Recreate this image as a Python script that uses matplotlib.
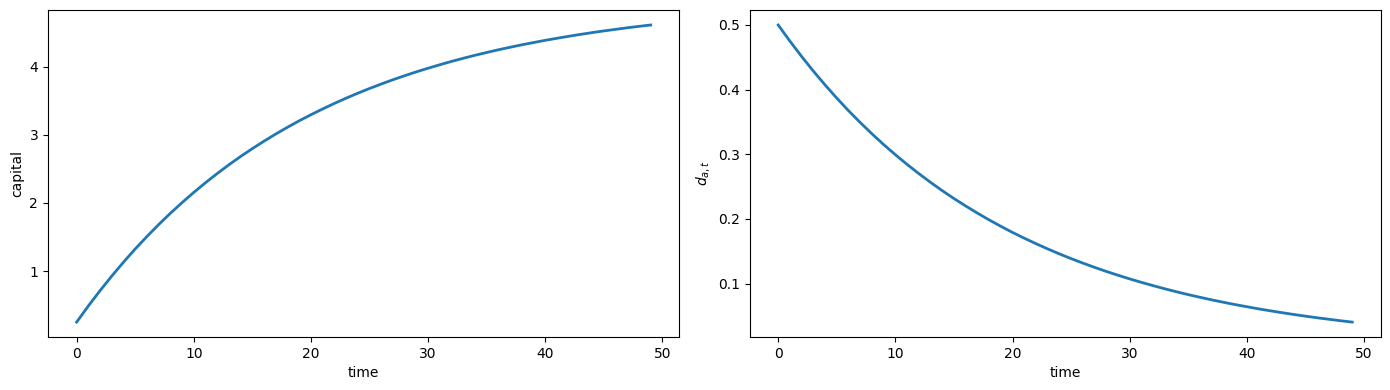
import numpy as np
import matplotlib
matplotlib.use("Agg")
import matplotlib.pyplot as plt

# values, one per time step
time = list(range(50))
capital = [0.250, 0.488, 0.713, 0.927, 1.131, 1.325, 1.508, 1.683, 1.849, 2.006,
           2.156, 2.298, 2.433, 2.562, 2.684, 2.799, 2.909, 3.014, 3.113, 3.208,
           3.297, 3.382, 3.463, 3.540, 3.613, 3.682, 3.748, 3.811, 3.870, 3.927,
           3.980, 4.031, 4.080, 4.126, 4.170, 4.211, 4.251, 4.288, 4.324, 4.357,
           4.390, 4.420, 4.449, 4.477, 4.503, 4.528, 4.551, 4.574, 4.595, 4.615]
d_at = [0.5000, 0.4750, 0.4513, 0.4287, 0.4073, 0.3869, 0.3675, 0.3492, 0.3317, 0.3151,
        0.2994, 0.2844, 0.2702, 0.2567, 0.2438, 0.2316, 0.2201, 0.2091, 0.1986, 0.1887,
        0.1792, 0.1703, 0.1618, 0.1537, 0.1460, 0.1387, 0.1318, 0.1252, 0.1189, 0.1130,
        0.1073, 0.1020, 0.0969, 0.0920, 0.0874, 0.0830, 0.0789, 0.0749, 0.0712, 0.0676,
        0.0643, 0.0610, 0.0580, 0.0551, 0.0523, 0.0497, 0.0472, 0.0449, 0.0426, 0.0405]

fig, axs = plt.subplots(1, 2, figsize=(13.9, 3.9), dpi=100)

axs[0].plot(time, capital, lw=2)
axs[0].set_xlabel('time')
axs[0].set_ylabel('capital')

axs[1].plot(time, d_at, lw=2)
axs[1].set_xlabel('time')
axs[1].set_ylabel('$d_{a,t}$')

fig.subplots_adjust(left=0.0345, right=0.9935, bottom=0.136, top=0.974, wspace=0.111)
fig.savefig('out.png')
